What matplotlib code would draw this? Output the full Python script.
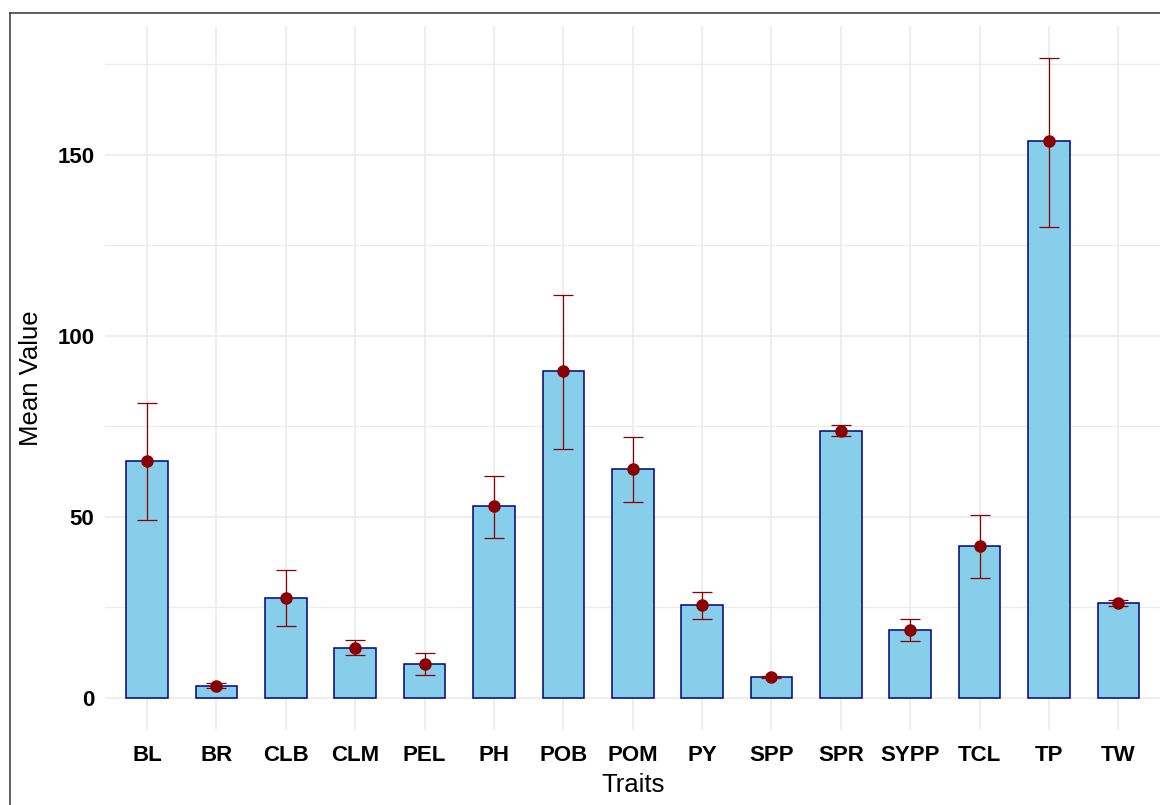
import numpy as np
import matplotlib
matplotlib.use("Agg")
import matplotlib.pyplot as plt
from matplotlib.lines import Line2D
from matplotlib.ticker import MultipleLocator

# ----- data -----
traits = ["BL", "BR", "CLB", "CLM", "PEL", "PH", "POB", "POM",
          "PY", "SPP", "SPR", "SYPP", "TCL", "TP", "TW"]
mean_vals = [65.3, 3.4, 27.7, 13.9, 9.3, 53.1, 90.2, 63.1,
             25.8, 5.8, 73.7, 18.9, 42.0, 153.7, 26.3]
err_low = [49.1, 2.7, 19.9, 11.8, 6.3, 44.3, 68.8, 54.0,
           21.8, 5.4, 72.3, 15.7, 33.2, 130.0, 25.4]
err_high = [81.4, 4.0, 35.4, 16.1, 12.5, 61.4, 111.4, 72.0,
            29.2, 6.2, 75.3, 21.8, 50.6, 176.7, 27.1]

plt.rcParams['font.family'] = ['Liberation Sans', 'DejaVu Sans']

fig = plt.figure(figsize=(11.6, 8.05), dpi=100)
ax = fig.add_axes([0.0909, 0.0932, 0.9091, 0.8745])

x = np.arange(len(traits))
means = np.array(mean_vals)
lo = means - np.array(err_low)
hi = np.array(err_high) - means

ax.bar(x, means, width=0.6, color="#87CEEB", edgecolor="#000080",
       linewidth=1.1, zorder=2)
ax.errorbar(x, means, yerr=[lo, hi], fmt="none", ecolor="#8B0000",
            elinewidth=0.9, capsize=7.4, capthick=0.9, zorder=3)
ax.plot(x, means, "o", color="#8B0000", markersize=8, zorder=4)

# ggplot-like limits (5% expansion, 0.6 for discrete axis)
top = max(err_high)
ax.set_ylim(-0.05 * top, top * 1.05)
ax.set_xlim(-0.6, len(traits) - 0.4)

ax.yaxis.set_major_locator(MultipleLocator(50))
ax.yaxis.set_minor_locator(MultipleLocator(25))
ax.set_xticks(x)
ax.set_xticklabels(traits, fontsize=16, fontweight="bold")
for lab in ax.get_yticklabels():
    lab.set_fontsize(16)
    lab.set_fontweight("bold")

ax.grid(True, which="major", color="#EBEBEB", linewidth=1.2, zorder=0)
ax.grid(True, which="minor", axis="y", color="#EBEBEB", linewidth=0.9, zorder=0)
ax.set_axisbelow(True)
ax.tick_params(axis="both", which="both", length=0)
ax.tick_params(axis="x", pad=11)
ax.tick_params(axis="y", pad=8)
for s in ax.spines.values():
    s.set_visible(False)

ax.set_xlabel("Traits", fontsize=18.5, labelpad=5)
ax.set_ylabel("Mean Value", fontsize=18.5, labelpad=10)

# screenshot frame (left and top edge only)
fig.add_artist(Line2D([9.5 / 1160, 9.5 / 1160], [0, 1 - 13 / 805],
                      transform=fig.transFigure, color="#444444", linewidth=1.2))
fig.add_artist(Line2D([9.5 / 1160, 1], [1 - 13 / 805, 1 - 13 / 805],
                      transform=fig.transFigure, color="#444444", linewidth=1.2))

fig.savefig("out.png", dpi=100)
